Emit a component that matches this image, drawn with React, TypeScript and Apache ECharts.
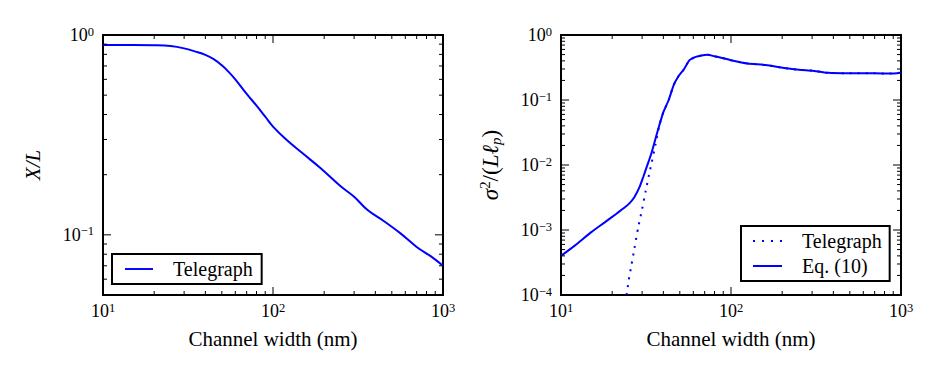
import React, { useEffect, useRef } from 'react';
import * as echarts from 'echarts';

const FONT = '"Liberation Serif", "DejaVu Serif", serif';
const BLUE = '#0000ff';

// Left panel: X/L vs channel width
const widthsLeft = [10, 15, 20, 25, 30, 35, 40, 45, 50, 55, 60, 70, 80, 90, 100, 120, 150, 190, 250, 300, 360, 450, 560, 700, 850, 1000];
const telegraphLeft = [0.89, 0.89, 0.888, 0.88, 0.857, 0.826, 0.795, 0.755, 0.705, 0.652, 0.6, 0.507, 0.443, 0.39, 0.348, 0.299, 0.255, 0.216, 0.175, 0.155, 0.133, 0.117, 0.102, 0.087, 0.078, 0.070];

// Right panel: sigma^2/(L l_p) vs channel width
const widthsEq = [10, 12, 15, 18, 21, 23, 25, 27, 29, 30.5, 32, 34, 37, 40, 43, 46, 49, 53, 57, 62, 67, 73, 80, 90, 100, 125, 160, 210, 260, 300, 370, 500, 700, 860, 1000];
const eq10 = [4e-4, 5.7e-4, 9.2e-4, 1.3e-3, 1.75e-3, 2.1e-3, 2.5e-3, 3.2e-3, 4.6e-3, 6.6e-3, 9.5e-3, 0.015, 0.033, 0.065, 0.1, 0.17, 0.23, 0.3, 0.41, 0.46, 0.485, 0.495, 0.47, 0.44, 0.41, 0.365, 0.345, 0.307, 0.29, 0.283, 0.262, 0.258, 0.258, 0.255, 0.263];
const widthsTel = [24.3, 25, 26, 27, 28.5, 30, 31.5, 33, 34.2, 36, 38, 40, 43, 46, 49, 53, 57, 62, 67, 73, 80, 90, 100, 125, 160, 210, 260, 300, 370, 500, 700, 860, 1000];
const telegraphRight = [1e-4, 1.66e-4, 2.95e-4, 5.1e-4, 1.12e-3, 2.1e-3, 4e-3, 7.2e-3, 0.011, 0.021, 0.042, 0.065, 0.1, 0.17, 0.23, 0.3, 0.41, 0.46, 0.485, 0.495, 0.47, 0.44, 0.41, 0.365, 0.345, 0.307, 0.29, 0.283, 0.262, 0.258, 0.258, 0.255, 0.263];

// Axis ranges
const xRange = [10, 1000];
const yRangeLeft = [0.05, 1];
const yRangeRight = [1e-4, 1];
const minorMultipliers = [2, 3, 4, 5, 6, 7, 8, 9];

const ICON_SOLID = 'path://M0,0H29V2H0Z';
const ICON_DOTTED = 'path://M0,0H2V2H0Z M9,0H11V2H9Z M18,0H20V2H18Z M27,0H29V2H27Z';

function logTicks(min: number, max: number) {
  const major: number[] = [];
  const minor: number[] = [];
  const lo = Math.floor(Math.log10(min) + 1e-9);
  const hi = Math.ceil(Math.log10(max) - 1e-9);
  for (let k = lo; k <= hi; k++) {
    const p = Math.pow(10, k);
    if (p >= min * (1 - 1e-9) && p <= max * (1 + 1e-9)) major.push(p);
    for (const m of minorMultipliers) {
      const v = m * p;
      if (v > min * (1 + 1e-9) && v < max * (1 - 1e-9)) minor.push(v);
    }
  }
  return { major, minor };
}

function powLabel(v: number) {
  const e = Math.log10(v);
  const r = Math.round(e);
  if (Math.abs(e - r) > 1e-6) return '';
  const exp = r < 0 ? '\u2212' + -r : String(r);
  return `{base|10}{exp|${exp}}`;
}

const labelRich = {
  base: { fontSize: 18, fontFamily: FONT, color: '#000', lineHeight: 20 },
  exp: { fontSize: 12.5, fontFamily: FONT, color: '#000', verticalAlign: 'top', lineHeight: 12 },
};

function tickSeries(gridIndex: number, xr: number[], yr: number[]) {
  const xt = logTicks(xr[0], xr[1]);
  const yt = logTicks(yr[0], yr[1]);
  const data = [
    ...xt.major.map((v) => [v, yr[0], 0]),
    ...xt.minor.map((v) => [v, yr[0], 1]),
    ...yt.major.map((v) => [xr[0], v, 2]),
    ...yt.minor.map((v) => [xr[0], v, 3]),
  ];
  return {
    type: 'custom',
    xAxisIndex: gridIndex,
    yAxisIndex: gridIndex,
    silent: true,
    clip: false,
    z: 5,
    data,
    renderItem: (_params: any, api: any) => {
      const x = api.value(0);
      const y = api.value(1);
      const k = api.value(2);
      const len = k % 2 === 0 ? 8 : 4;
      const st = { stroke: '#000', lineWidth: 1 };
      if (k < 2) {
        const p1 = api.coord([x, yr[0]]);
        const p2 = api.coord([x, yr[1]]);
        return {
          type: 'group',
          children: [
            { type: 'line', shape: { x1: p1[0], y1: p1[1], x2: p1[0], y2: p1[1] - len }, style: st },
            { type: 'line', shape: { x1: p2[0], y1: p2[1], x2: p2[0], y2: p2[1] + len }, style: st },
          ],
        };
      }
      const p1 = api.coord([xr[0], y]);
      const p2 = api.coord([xr[1], y]);
      return {
        type: 'group',
        children: [
          { type: 'line', shape: { x1: p1[0], y1: p1[1], x2: p1[0] + len, y2: p1[1] }, style: st },
          { type: 'line', shape: { x1: p2[0], y1: p2[1], x2: p2[0] - len, y2: p2[1] }, style: st },
        ],
      };
    },
  };
}

function xAxisDef(gridIndex: number) {
  return {
    type: 'log',
    logBase: 10,
    gridIndex,
    min: xRange[0],
    max: xRange[1],
    name: 'Channel width (nm)',
    nameLocation: 'middle',
    nameGap: 33,
    nameTextStyle: { fontFamily: FONT, fontSize: 21, color: '#000' },
    axisLine: { show: false },
    axisTick: { show: false },
    splitLine: { show: false },
    axisLabel: { formatter: powLabel, rich: labelRich, margin: 6, color: '#000', fontSize: 18, fontFamily: FONT },
  };
}

function yAxisLabel() {
  return { formatter: powLabel, rich: labelRich, margin: 9, color: '#000', fontSize: 18, fontFamily: FONT };
}

export default function App() {
  const ref = useRef<HTMLDivElement>(null);
  useEffect(() => {
    if (!ref.current) return;
    const chart = echarts.init(ref.current, undefined, { renderer: 'svg' });
    const option: any = {
      animation: false,
      backgroundColor: '#fff',
      textStyle: { fontFamily: FONT },
      grid: [
        { left: 103, top: 35, width: 340, height: 260, show: true, borderColor: '#000', borderWidth: 2 },
        { left: 561, top: 35, width: 340, height: 260, show: true, borderColor: '#000', borderWidth: 2 },
      ],
      xAxis: [xAxisDef(0), xAxisDef(1)],
      yAxis: [
        {
          type: 'log',
          logBase: 10,
          gridIndex: 0,
          min: yRangeLeft[0],
          max: yRangeLeft[1],
          name: 'X/L',
          nameLocation: 'middle',
          nameRotate: 90,
          nameGap: 60,
          nameTextStyle: { fontFamily: FONT, fontSize: 21, fontStyle: 'italic', color: '#000' },
          axisLine: { show: false },
          axisTick: { show: false },
          splitLine: { show: false },
          axisLabel: yAxisLabel(),
        },
        {
          type: 'log',
          logBase: 10,
          gridIndex: 1,
          min: yRangeRight[0],
          max: yRangeRight[1],
          name: '{it|σ}{sup|2}{up|/(}{it|Lℓ}{sub|p}{up|)}',
          nameLocation: 'middle',
          nameRotate: 90,
          nameGap: 58,
          nameTextStyle: {
            color: '#000',
            fontSize: 23,
            fontFamily: FONT,
            rich: {
              it: { fontFamily: FONT, fontSize: 23, fontStyle: 'italic', color: '#000', lineHeight: 26 },
              up: { fontFamily: FONT, fontSize: 23, color: '#000', lineHeight: 26 },
              sup: { fontFamily: FONT, fontSize: 15, color: '#000', verticalAlign: 'top', lineHeight: 15 },
              sub: { fontFamily: FONT, fontSize: 15, fontStyle: 'italic', color: '#000', verticalAlign: 'bottom', lineHeight: 15 },
            },
          },
          axisLine: { show: false },
          axisTick: { show: false },
          splitLine: { show: false },
          axisLabel: yAxisLabel(),
        },
      ],
      legend: [
        {
          data: [{ name: 'Telegraph', icon: ICON_SOLID }],
          left: 112,
          top: 254,
          padding: [5, 9, 5, 13],
          itemWidth: 28,
          itemHeight: 2,
          borderColor: '#000',
          borderWidth: 2,
          borderRadius: 0,
          backgroundColor: '#fff',
          textStyle: { fontFamily: FONT, fontSize: 20, color: '#000', padding: [0, 0, 0, 15] },
        },
        {
          data: [
            { name: 'TelegraphR', icon: ICON_DOTTED },
            { name: 'Eq. (10)', icon: ICON_SOLID },
          ],
          left: 741,
          top: 226,
          orient: 'vertical',
          itemGap: 5,
          padding: [5, 8, 5, 12],
          itemWidth: 29,
          itemHeight: 2,
          borderColor: '#000',
          borderWidth: 2,
          borderRadius: 0,
          backgroundColor: '#fff',
          formatter: (n: string) => (n === 'TelegraphR' ? 'Telegraph' : n),
          textStyle: { fontFamily: FONT, fontSize: 20, color: '#000', padding: [0, 0, 0, 15] },
        },
      ],
      series: [
        {
          name: 'Telegraph',
          type: 'line',
          xAxisIndex: 0,
          yAxisIndex: 0,
          symbol: 'none',
          smooth: 0.4,
          lineStyle: { color: BLUE, width: 2 },
          itemStyle: { color: BLUE },
          data: widthsLeft.map((w, i) => [w, telegraphLeft[i]]),
        },
        {
          name: 'TelegraphR',
          type: 'line',
          xAxisIndex: 1,
          yAxisIndex: 1,
          symbol: 'none',
          smooth: 0.2,
          lineStyle: { color: BLUE, width: 2, type: [2, 6] },
          itemStyle: { color: BLUE },
          data: widthsTel.map((w, i) => [w, telegraphRight[i]]),
        },
        {
          name: 'Eq. (10)',
          type: 'line',
          xAxisIndex: 1,
          yAxisIndex: 1,
          symbol: 'none',
          smooth: 0.2,
          lineStyle: { color: BLUE, width: 2 },
          itemStyle: { color: BLUE },
          data: widthsEq.map((w, i) => [w, eq10[i]]),
        },
        tickSeries(0, xRange, yRangeLeft),
        tickSeries(1, xRange, yRangeRight),
      ],
    };
    chart.setOption(option);
    return () => chart.dispose();
  }, []);
  return (
    <div
      ref={ref}
      style={{ position: 'absolute', left: 0, top: 0, width: 942, height: 377, background: '#fff' }}
    />
  );
}
